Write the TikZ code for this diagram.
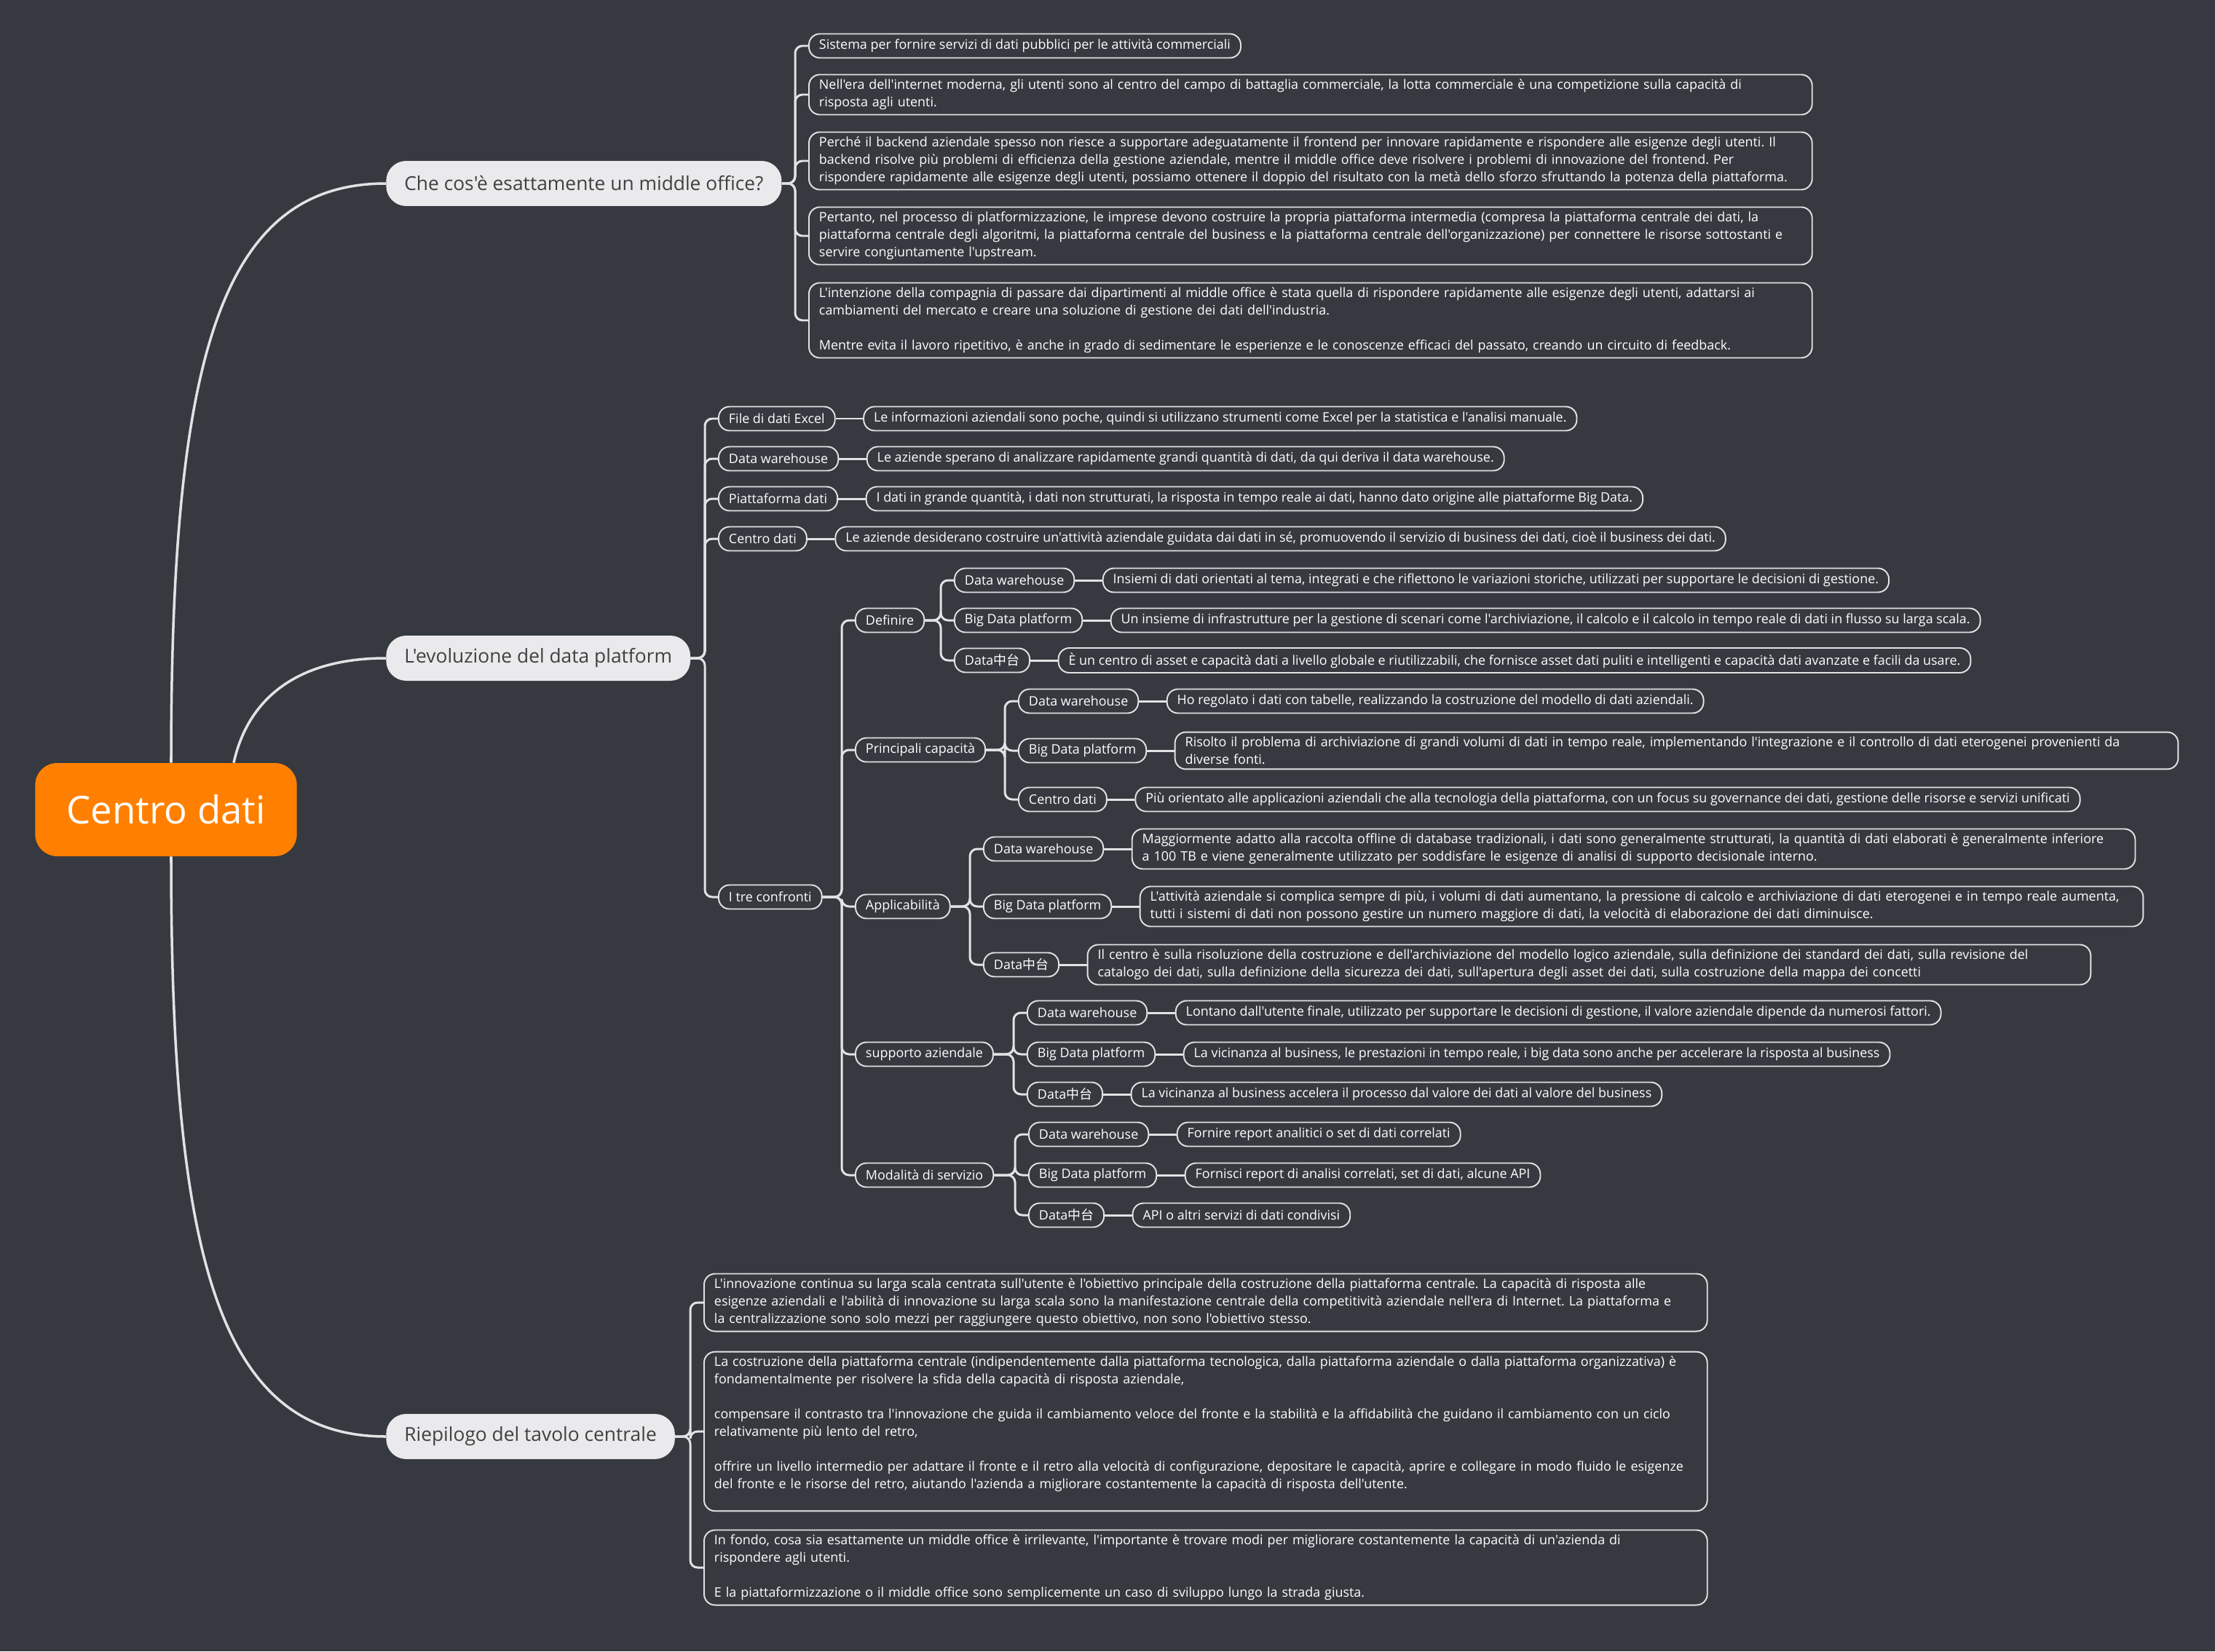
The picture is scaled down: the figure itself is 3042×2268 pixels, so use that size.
\documentclass[tikz,border=0pt]{standalone}
\usepackage{fontspec}
\setmainfont{Open Sans}[Ligatures=TeXOff]
\newfontfamily\cjk{Noto Sans CJK SC}
\usepackage{xcolor}
\usetikzlibrary{positioning}

\definecolor{bgdark}{RGB}{54,57,63}
\definecolor{linegray}{RGB}{226,226,228}
\definecolor{rootorange}{RGB}{255,128,0}
\definecolor{mainfill}{RGB}{234,234,236}
\definecolor{maintext}{RGB}{64,64,64}

\newcommand{\zt}{Data{\cjk 中台}}

\begin{document}
\frenchspacing
\begin{tikzpicture}[
x=0.02cm,
y=-0.02cm,
node distance=0.75cm,
every node/.style={font=\fontsize{10.2}{13.66}\selectfont},
root/.style={rectangle,rounded corners=0.6cm,fill=rootorange,text=white,font=\fontsize{30}{35}\selectfont,minimum height=2.56cm,inner xsep=0.86cm},
topic/.style={rectangle,rounded corners=0.55cm,fill=mainfill,text=maintext,font=\fontsize{15}{18}\selectfont,minimum height=1.24cm,inner xsep=0.5cm,anchor=west},
leaf/.style={rectangle,rounded corners=0.3cm,draw=linegray,line width=1.1pt,text=white,minimum height=0.66cm,inner xsep=0.28cm,inner ysep=0.13cm,anchor=west},
para/.style={leaf,text width=27cm,align=left},
link/.style={draw=linegray,line width=1.7pt,rounded corners=0.2cm},
curve/.style={draw=linegray,line width=2pt}
]
\fill[bgdark] (0,0) rectangle (3042,2268);
\useasboundingbox (0,0) rectangle (3042,2268);

% centre and main topics
\node[root] (root) at (228,1112) {Centro dati};
\node[topic] (t1) at (530,252) {Che cos'è esattamente un middle office?};
\node[topic] (t2) at (530,904) {L'evoluzione del data platform};
\node[topic] (t3) at (530,1973) {Riepilogo del tavolo centrale};

\draw[curve] ([xshift=0.14cm]root.north) .. controls +(0,-550) and +(-230,0) .. (t1.west);
\draw[curve] ([xshift=1.86cm]root.north) .. controls +(20,-90) and +(-120,0) .. (t2.west);
\draw[curve] ([xshift=0.14cm]root.south) .. controls +(0,550) and +(-230,0) .. (t3.west);

% what is a middle office
\node[leaf] (w1) at (1110,63) {Sistema per fornire servizi di dati pubblici per le attività commerciali};
\node[para] (w2) at (1110,130) {Nell'era dell'internet moderna, gli utenti sono al centro del campo di battaglia commerciale, la lotta commerciale è una competizione sulla capacità di\\risposta agli utenti.};
\node[para] (w3) at (1110,221) {Perché il backend aziendale spesso non riesce a supportare adeguatamente il frontend per innovare rapidamente e rispondere alle esigenze degli utenti. Il\\backend risolve più problemi di efficienza della gestione aziendale, mentre il middle office deve risolvere i problemi di innovazione del frontend. Per\\rispondere rapidamente alle esigenze degli utenti, possiamo ottenere il doppio del risultato con la metà dello sforzo sfruttando la potenza della piattaforma.};
\node[para] (w4) at (1110,324) {Pertanto, nel processo di platformizzazione, le imprese devono costruire la propria piattaforma intermedia (compresa la piattaforma centrale dei dati, la\\piattaforma centrale degli algoritmi, la piattaforma centrale del business e la piattaforma centrale dell'organizzazione) per connettere le risorse sottostanti e\\servire congiuntamente l'upstream.};
\node[para] (w5) at (1110,440) {L'intenzione della compagnia di passare dai dipartimenti al middle office è stata quella di rispondere rapidamente alle esigenze degli utenti, adattarsi ai\\cambiamenti del mercato e creare una soluzione di gestione dei dati dell'industria.\\\mbox{}\\Mentre evita il lavoro ripetitivo, è anche in grado di sedimentare le esperienze e le conoscenze efficaci del passato, creando un circuito di feedback.};
\foreach \c in {w1,w2,w3,w4,w5}
  \draw[link] (t1.east) -| ([xshift=-0.36cm]\c.west) -- (\c.west);

% evolution of the data platform
\node[leaf] (e1) at (986,575) {File di dati Excel};
\node[leaf,right=of e1] (e1x) {Le informazioni aziendali sono poche, quindi si utilizzano strumenti come Excel per la statistica e l'analisi manuale.};
\node[leaf] (e2) at (986,630) {Data warehouse};
\node[leaf,right=of e2] (e2x) {Le aziende sperano di analizzare rapidamente grandi quantità di dati, da qui deriva il data warehouse.};
\node[leaf] (e3) at (986,685) {Piattaforma dati};
\node[leaf,right=of e3] (e3x) {I dati in grande quantità, i dati non strutturati, la risposta in tempo reale ai dati, hanno dato origine alle piattaforme Big Data.};
\node[leaf] (e4) at (986,740) {Centro dati};
\node[leaf,right=of e4] (e4x) {Le aziende desiderano costruire un'attività aziendale guidata dai dati in sé, promuovendo il servizio di business dei dati, cioè il business dei dati.};
\node[leaf] (e5) at (986,1232) {I tre confronti};
\foreach \c in {e1,e2,e3,e4,e5}
  \draw[link] (t2.east) -| ([xshift=-0.36cm]\c.west) -- (\c.west);
\foreach \c in {e1,e2,e3,e4}
  \draw[link] (\c.east) -- (\c x.west);

% the three comparisons
\node[leaf] (c1) at (1174,852) {Definire};
\node[leaf] (c2) at (1174,1030) {Principali capacità};
\node[leaf] (c3) at (1174,1245) {Applicabilità};
\node[leaf] (c4) at (1174,1448) {supporto aziendale};
\node[leaf] (c5) at (1174,1614) {Modalità di servizio};
\foreach \c in {c1,c2,c3,c4,c5}
  \draw[link] (e5.east) -| ([xshift=-0.36cm]\c.west) -- (\c.west);

\node[leaf] (defdw) at (1310,797) {Data warehouse};
\node[leaf,right=of defdw] (defdwx) {Insiemi di dati orientati al tema, integrati e che riflettono le variazioni storiche, utilizzati per supportare le decisioni di gestione.};
\node[leaf] (defbd) at (1310,852) {Big Data platform};
\node[leaf,right=of defbd] (defbdx) {Un insieme di infrastrutture per la gestione di scenari come l'archiviazione, il calcolo e il calcolo in tempo reale di dati in flusso su larga scala.};
\node[leaf] (defzt) at (1310,907) {\zt};
\node[leaf,right=of defzt] (defztx) {È un centro di asset e capacità dati a livello globale e riutilizzabili, che fornisce asset dati puliti e intelligenti e capacità dati avanzate e facili da usare.};

\node[leaf] (capdw) at (1398,963) {Data warehouse};
\node[leaf,right=of capdw] (capdwx) {Ho regolato i dati con tabelle, realizzando la costruzione del modello di dati aziendali.};
\node[leaf] (capbd) at (1398,1031) {Big Data platform};
\node[para,right=of capbd] (capbdx) {Risolto il problema di archiviazione di grandi volumi di dati in tempo reale, implementando l'integrazione e il controllo di dati eterogenei provenienti da\\diverse fonti.};
\node[leaf] (capzt) at (1398,1098) {Centro dati};
\node[leaf,right=of capzt] (capztx) {Più orientato alle applicazioni aziendali che alla tecnologia della piattaforma, con un focus su governance dei dati, gestione delle risorse e servizi unificati};

\node[leaf] (appdw) at (1350,1166) {Data warehouse};
\node[para,right=of appdw] (appdwx) {Maggiormente adatto alla raccolta offline di database tradizionali, i dati sono generalmente strutturati, la quantità di dati elaborati è generalmente inferiore\\a 100 TB e viene generalmente utilizzato per soddisfare le esigenze di analisi di supporto decisionale interno.};
\node[leaf] (appbd) at (1350,1245) {Big Data platform};
\node[para,right=of appbd] (appbdx) {L'attività aziendale si complica sempre di più, i volumi di dati aumentano, la pressione di calcolo e archiviazione di dati eterogenei e in tempo reale aumenta,\\tutti i sistemi di dati non possono gestire un numero maggiore di dati, la velocità di elaborazione dei dati diminuisce.};
\node[leaf] (appzt) at (1350,1325) {\zt};
\node[para,right=of appzt] (appztx) {Il centro è sulla risoluzione della costruzione e dell'archiviazione del modello logico aziendale, sulla definizione dei standard dei dati, sulla revisione del\\catalogo dei dati, sulla definizione della sicurezza dei dati, sull'apertura degli asset dei dati, sulla costruzione della mappa dei concetti};

\node[leaf] (supdw) at (1410,1391) {Data warehouse};
\node[leaf,right=of supdw] (supdwx) {Lontano dall'utente finale, utilizzato per supportare le decisioni di gestione, il valore aziendale dipende da numerosi fattori.};
\node[leaf] (supbd) at (1410,1448) {Big Data platform};
\node[leaf,right=of supbd] (supbdx) {La vicinanza al business, le prestazioni in tempo reale, i big data sono anche per accelerare la risposta al business};
\node[leaf] (supzt) at (1410,1503) {\zt};
\node[leaf,right=of supzt] (supztx) {La vicinanza al business accelera il processo dal valore dei dati al valore del business};

\node[leaf] (moddw) at (1412,1558) {Data warehouse};
\node[leaf,right=of moddw] (moddwx) {Fornire report analitici o set di dati correlati};
\node[leaf] (modbd) at (1412,1614) {Big Data platform};
\node[leaf,right=of modbd] (modbdx) {Fornisci report di analisi correlati, set di dati, alcune API};
\node[leaf] (modzt) at (1412,1669) {\zt};
\node[leaf,right=of modzt] (modztx) {API o altri servizi di dati condivisi};

\foreach \p/\k in {c1/def,c2/cap,c3/app,c4/sup,c5/mod}{
  \foreach \s in {dw,bd,zt}{
    \draw[link] (\p.east) -| ([xshift=-0.36cm]\k\s.west) -- (\k\s.west);
    \draw[link] (\k\s.east) -- (\k\s x.west);
  }
}

% summary
\node[para] (r1) at (966,1789) {L'innovazione continua su larga scala centrata sull'utente è l'obiettivo principale della costruzione della piattaforma centrale. La capacità di risposta alle\\esigenze aziendali e l'abilità di innovazione su larga scala sono la manifestazione centrale della competitività aziendale nell'era di Internet. La piattaforma e\\la centralizzazione sono solo mezzi per raggiungere questo obiettivo, non sono l'obiettivo stesso.};
\node[para] (r2) at (966,1966) {La costruzione della piattaforma centrale (indipendentemente dalla piattaforma tecnologica, dalla piattaforma aziendale o dalla piattaforma organizzativa) è\\fondamentalmente per risolvere la sfida della capacità di risposta aziendale,\\\mbox{}\\compensare il contrasto tra l'innovazione che guida il cambiamento veloce del fronte e la stabilità e la affidabilità che guidano il cambiamento con un ciclo\\relativamente più lento del retro,\\\mbox{}\\offrire un livello intermedio per adattare il fronte e il retro alla velocità di configurazione, depositare le capacità, aprire e collegare in modo fluido le esigenze\\del fronte e le risorse del retro, aiutando l'azienda a migliorare costantemente la capacità di risposta dell'utente.\\\mbox{}};
\node[para] (r3) at (966,2153) {In fondo, cosa sia esattamente un middle office è irrilevante, l'importante è trovare modi per migliorare costantemente la capacità di un'azienda di\\rispondere agli utenti.\\\mbox{}\\E la piattaformizzazione o il middle office sono semplicemente un caso di sviluppo lungo la strada giusta.};
\foreach \c in {r1,r2,r3}
  \draw[link] (t3.east) -| ([xshift=-0.36cm]\c.west) -- (\c.west);
\end{tikzpicture}
\end{document}
